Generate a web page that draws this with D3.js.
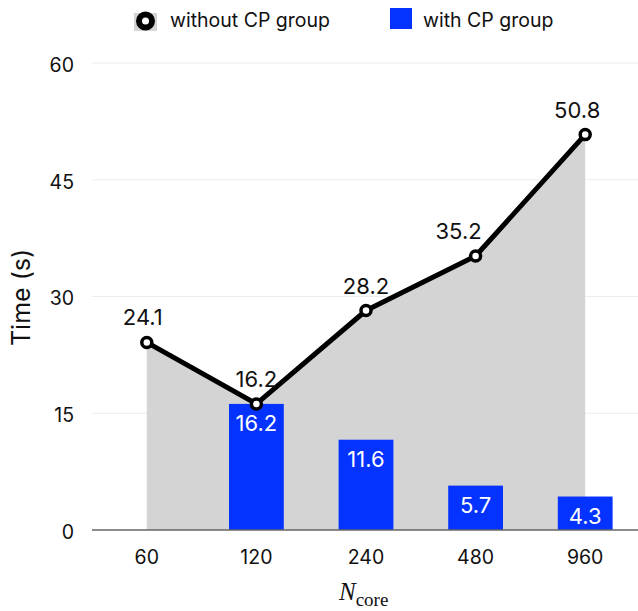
<!DOCTYPE html>
<html>
<head>
<meta charset="utf-8">
<script src="https://cdn.jsdelivr.net/npm/d3@7/dist/d3.min.js"></script>
<style>
  body { margin: 0; background: #fff; }
  svg { display: block; font-family: Inter, "Noto Sans", sans-serif; }
</style>
</head>
<body>
<div id="chart"></div>
<script>
// chart data
const cores = ["60", "120", "240", "480", "960"];
const withoutCP = [24.1, 16.2, 28.2, 35.2, 50.8];
const withCP = [null, 16.2, 11.6, 5.7, 4.3];
const yTicks = [0, 15, 30, 45, 60];

// horizontal nudge for point labels so they clear the line (px)
const labelNudge = [-4, 0, 0, -17, -8];

const W = 638, H = 611;
const margin = { top: 63, right: -2, bottom: 81, left: 92 };
const width = W - margin.left - margin.right;
const height = H - margin.top - margin.bottom;

const svg = d3.select("#chart").append("svg")
  .attr("width", W)
  .attr("height", H);

const g = svg.append("g")
  .attr("transform", `translate(${margin.left},${margin.top})`);

const x = d3.scaleBand().domain(cores).range([0, width]);
const y = d3.scaleLinear().domain([0, 60]).range([height, 0]);
const cx = d => x(d) + x.bandwidth() / 2;

// gridlines
g.append("g")
  .selectAll("line")
  .data(yTicks.filter(t => t > 0))
  .join("line")
  .attr("x1", 0).attr("x2", width)
  .attr("y1", d => y(d)).attr("y2", d => y(d))
  .attr("stroke", "#ececec")
  .attr("stroke-width", 1);

// y tick labels
g.append("g")
  .selectAll("text")
  .data(yTicks)
  .join("text")
  .attr("x", -18)
  .attr("y", d => y(d) + 2)
  .attr("dy", "0.35em")
  .attr("text-anchor", "end")
  .style("font-size", "19.5px")
  .style("fill", "#111")
  .text(d => d);

// gray area under the line
const pts = cores.map((c, i) => ({ c, v: withoutCP[i], nudge: labelNudge[i] }));
g.append("path")
  .datum(pts)
  .attr("fill", "#d4d4d4")
  .attr("d", d3.area().x(d => cx(d.c)).y0(y(0)).y1(d => y(d.v)));

// bars
const bars = cores.map((c, i) => ({ c, v: withCP[i] })).filter(d => d.v != null);
const barW = x.bandwidth() * 0.5;
g.selectAll(".bar")
  .data(bars)
  .join("rect")
  .attr("class", "bar")
  .attr("x", d => cx(d.c) - barW / 2)
  .attr("width", barW)
  .attr("y", d => y(d.v))
  .attr("height", d => y(0) - y(d.v))
  .attr("fill", "#0433ff");

g.selectAll(".bar-label")
  .data(bars)
  .join("text")
  .attr("class", "bar-label")
  .attr("x", d => cx(d.c))
  .attr("y", d => y(d.v) + 27)
  .attr("text-anchor", "middle")
  .style("font-size", "22px")
  .style("fill", "#fff")
  .text(d => d.v.toFixed(1));

// x axis line
g.append("line")
  .attr("x1", 0).attr("x2", width)
  .attr("y1", y(0)).attr("y2", y(0))
  .attr("stroke", "#666")
  .attr("stroke-width", 1.5);

// x tick labels
g.selectAll(".xlab")
  .data(cores)
  .join("text")
  .attr("class", "xlab")
  .attr("x", d => cx(d))
  .attr("y", y(0) + 34)
  .attr("text-anchor", "middle")
  .style("font-size", "19.5px")
  .style("fill", "#111")
  .text(d => d);

// line + markers
g.append("path")
  .datum(pts)
  .attr("fill", "none")
  .attr("stroke", "#000")
  .attr("stroke-width", 5)
  .attr("stroke-linejoin", "round")
  .attr("d", d3.line().x(d => cx(d.c)).y(d => y(d.v)));

g.selectAll(".pt")
  .data(pts)
  .join("circle")
  .attr("class", "pt")
  .attr("cx", d => cx(d.c))
  .attr("cy", d => y(d.v))
  .attr("r", 5)
  .attr("fill", "#fff")
  .attr("stroke", "#000")
  .attr("stroke-width", 3.5);

g.selectAll(".pt-label")
  .data(pts)
  .join("text")
  .attr("class", "pt-label")
  .attr("x", d => cx(d.c) + d.nudge)
  .attr("y", d => y(d.v) - 17)
  .attr("text-anchor", "middle")
  .style("font-size", "22px")
  .style("fill", "#111")
  .text(d => d.v.toFixed(1));

// y axis title
svg.append("text")
  .attr("transform", "translate(30,297.5) rotate(-90)")
  .attr("text-anchor", "middle")
  .style("font-size", "25px")
  .style("fill", "#111")
  .text("Time (s)");

// x axis title
const xt = svg.append("text")
  .attr("x", 339)
  .attr("y", 600)
  .style("font-family", "'Liberation Serif', 'DejaVu Serif', serif")
  .style("fill", "#111");
xt.append("tspan").style("font-style", "italic").style("font-size", "25px").text("N");
xt.append("tspan").attr("dy", 6).style("font-size", "19px").text("core");

// legend
const lg = svg.append("g");
lg.append("rect").attr("x", 134).attr("y", 13).attr("width", 23).attr("height", 18).attr("fill", "#d4d4d4");
lg.append("circle").attr("cx", 145.5).attr("cy", 21).attr("r", 6.5)
  .attr("fill", "#fff").attr("stroke", "#000").attr("stroke-width", 6);
lg.append("text").attr("x", 170).attr("y", 27).style("font-size", "19.5px").style("fill", "#111").text("without CP group");
lg.append("rect").attr("x", 390).attr("y", 8).attr("width", 22).attr("height", 21).attr("fill", "#0433ff");
lg.append("text").attr("x", 423).attr("y", 27).style("font-size", "19.5px").style("fill", "#111").text("with CP group");
</script>
</body>
</html>
